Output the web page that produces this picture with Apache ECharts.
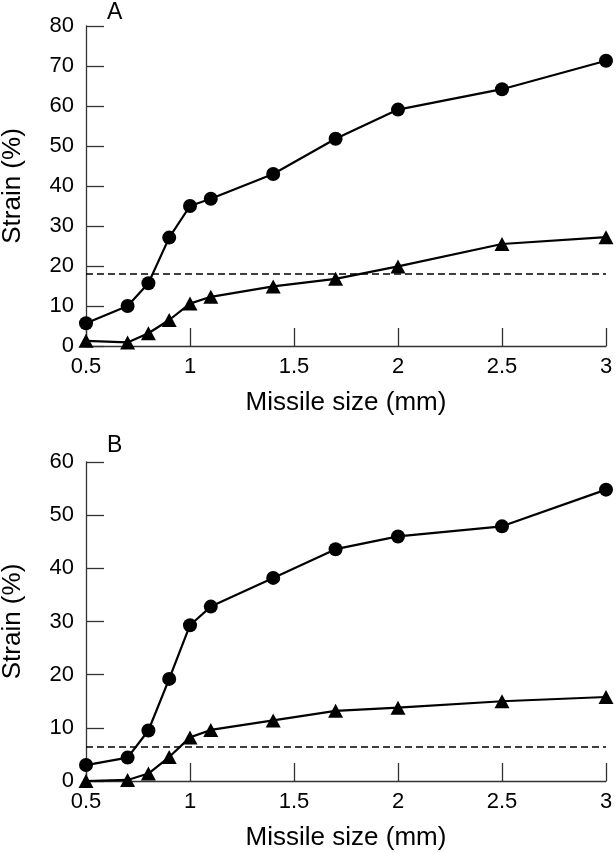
<!DOCTYPE html>
<html>
<head>
<meta charset="utf-8">
<script src="https://cdn.jsdelivr.net/npm/echarts@6/dist/echarts.min.js"></script>
<style>
html,body{margin:0;padding:0;background:#fff;}
#chart{width:616px;height:853px;}
</style>
</head>
<body>
<div id="chart"></div>
<script>
// Data
const missileSize = [0.5, 0.7, 0.8, 0.9, 1.0, 1.1, 1.4, 1.7, 2.0, 2.5, 3.0];
const aCircles   = [5.7, 10.0, 15.7, 27.1, 35.0, 36.8, 43.0, 51.8, 59.1, 64.2, 71.3];
const aTriangles = [1.3, 0.9, 3.2, 6.5, 10.6, 12.3, 14.9, 16.8, 19.9, 25.5, 27.2];
const aThreshold = 18;
const bCircles   = [3.0, 4.4, 9.5, 19.2, 29.3, 32.8, 38.2, 43.6, 46.0, 47.9, 54.8];
const bTriangles = [0, 0.2, 1.4, 4.5, 8.2, 9.6, 11.4, 13.2, 13.8, 15.0, 15.8];
const bThreshold = 6.5;
const panelLabels = ['A', 'B'];
const xName = 'Missile size (mm)';
const yName = 'Strain (%)';

const FONT = '"Liberation Sans", Arial, Helvetica, sans-serif';
const AX = '#333';

function pair(xs, ys) { return xs.map((x, i) => [x, ys[i]]); }

function xAxisDef(gi) {
  return {
    type: 'value', gridIndex: gi, min: 0.5, max: 3, interval: 0.5,
    name: xName, nameLocation: 'middle', nameGap: 44,
    nameTextStyle: { fontFamily: FONT, fontSize: 26, color: '#000' },
    axisLine: { show: true, onZero: false, lineStyle: { color: AX, width: 1.3 } },
    axisTick: { show: true, inside: true, length: 18, lineStyle: { color: AX, width: 1.3 } },
    axisLabel: { fontFamily: FONT, fontSize: 22, color: '#000', margin: 10 },
    splitLine: { show: false }
  };
}
function yAxisDef(gi, max) {
  return {
    type: 'value', gridIndex: gi, min: 0, max: max, interval: 10,
    name: yName, nameLocation: 'middle', nameGap: 60,
    nameTextStyle: { fontFamily: FONT, fontSize: 26, color: '#000' },
    axisLine: { show: true, onZero: false, lineStyle: { color: AX, width: 1.3 } },
    axisTick: { show: true, inside: true, length: 18, lineStyle: { color: AX, width: 1.3 } },
    axisLabel: { fontFamily: FONT, fontSize: 22, color: '#000', margin: 12 },
    splitLine: { show: false }
  };
}
function seriesDef(gi, ys, symbol, size, thr) {
  const s = {
    type: 'line', xAxisIndex: gi, yAxisIndex: gi,
    data: pair(missileSize, ys),
    symbol: symbol, symbolSize: size, showAllSymbol: true,
    clip: false,
    lineStyle: { color: '#000', width: 2.2 },
    itemStyle: { color: '#000', borderWidth: 0 },
    emphasis: { disabled: true },
    z: 3
  };
  if (thr !== undefined) {
    s.markLine = {
      silent: true, symbol: ['none', 'none'], label: { show: false },
      lineStyle: { color: '#000', type: [7, 4], width: 1.6 },
      data: [{ yAxis: thr }]
    };
  }
  return s;
}

const chart = echarts.init(document.getElementById('chart'), null, { renderer: 'canvas' });
chart.setOption({
  backgroundColor: '#fff',
  animation: false,
  title: [
    { text: panelLabels[0], left: 107, top: 1, padding: 0, textStyle: { fontFamily: FONT, fontSize: 23, fontWeight: 'normal', color: '#000' } },
    { text: panelLabels[1], left: 107, top: 434, padding: 0, textStyle: { fontFamily: FONT, fontSize: 23, fontWeight: 'normal', color: '#000' } }
  ],
  grid: [
    { left: 86, top: 26, width: 520, height: 320, containLabel: false, outerBoundsMode: 'none' },
    { left: 86, top: 462, width: 520, height: 319, containLabel: false, outerBoundsMode: 'none' }
  ],
  xAxis: [xAxisDef(0), xAxisDef(1)],
  yAxis: [yAxisDef(0, 80), yAxisDef(1, 60)],
  series: [
    seriesDef(0, aCircles, 'circle', 14, aThreshold),
    seriesDef(0, aTriangles, 'triangle', [15, 14]),
    seriesDef(1, bCircles, 'circle', 14, bThreshold),
    seriesDef(1, bTriangles, 'triangle', [15, 14])
  ]
});
</script>
</body>
</html>
